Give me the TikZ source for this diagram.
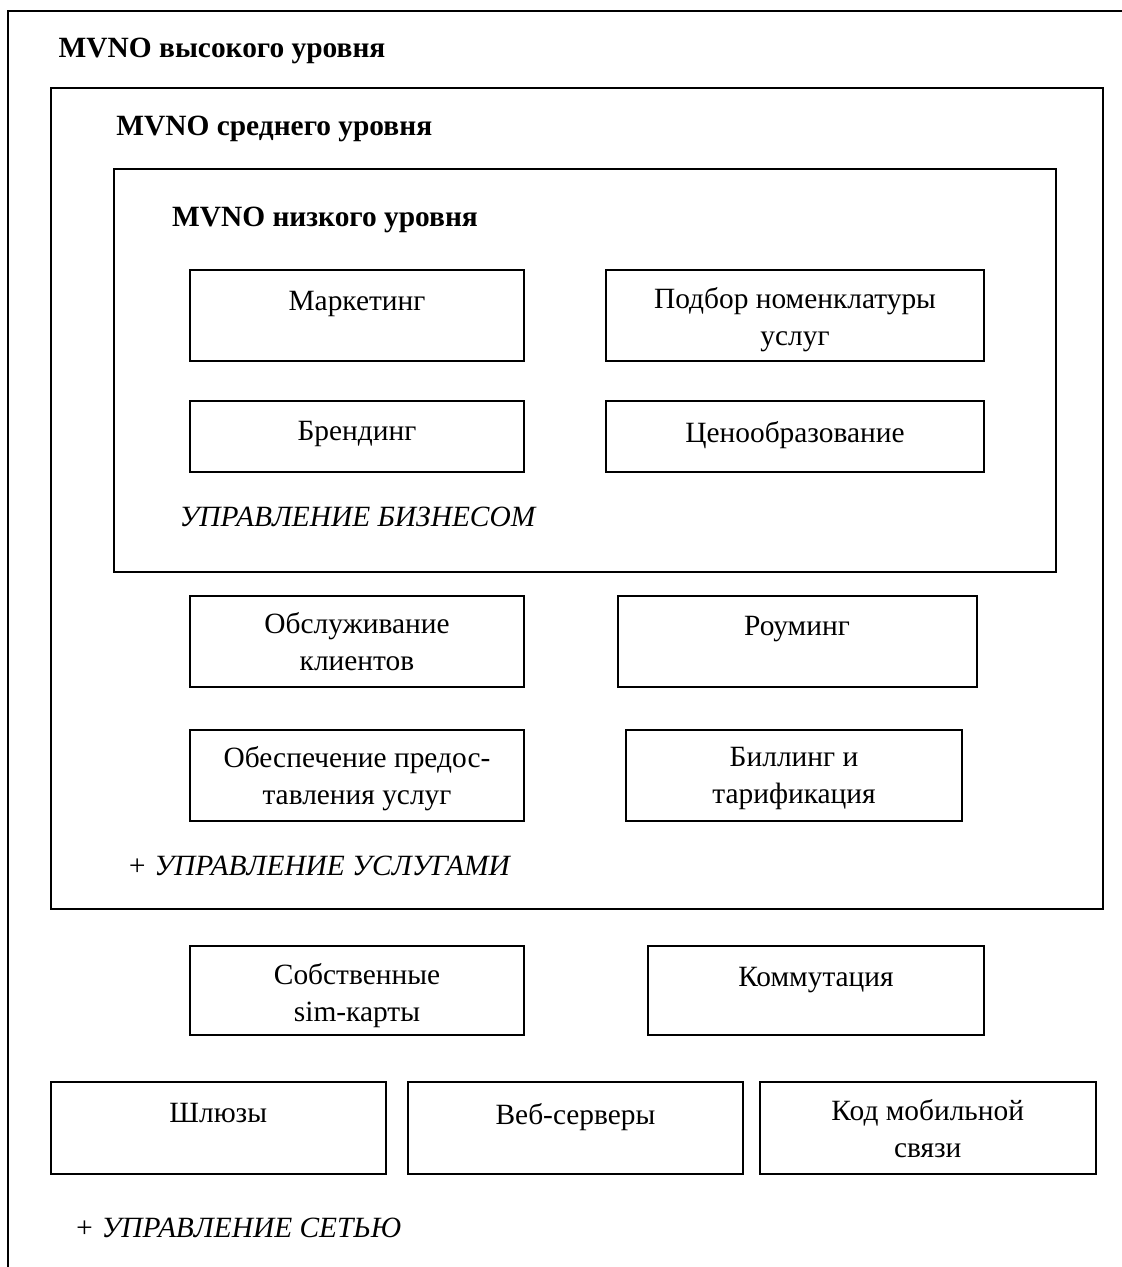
\documentclass[tikz,border=0pt]{standalone}
\usepackage{fontspec}
\setmainfont{Liberation Serif}
\usetikzlibrary{positioning}

\begin{document}
\begin{tikzpicture}[x=0.5pt, y=-0.5pt,
    font=\fontsize{14.7}{18.5}\selectfont,
    layer/.style={rectangle, draw, line width=1pt, inner sep=0pt},
    unit/.style={rectangle, draw, line width=1pt, inner sep=0pt, minimum height=45.5pt,
      label={[anchor=north, inner sep=0pt, align=center, yshift=-10.8pt]north:#1}},
    unittwo/.style={rectangle, draw, line width=1pt, inner sep=0pt, minimum height=45.5pt,
      label={[anchor=north, inner sep=0pt, align=center, yshift=-9pt]north:#1}},
    title/.style={anchor=base west, inner sep=0pt, font=\fontsize{14.7}{18.5}\selectfont\bfseries},
    part/.style={anchor=base west, inner sep=0pt, font=\fontsize{14.7}{18.5}\selectfont\itshape}]
    \useasboundingbox (0,0) rectangle (1122,1267);

    % Layers
    \draw[line width=1pt] (8,1280) |- (1135,11);
    \node (mid) [layer, minimum width=526.25pt, minimum height=410.5pt] at (576.75,498.5) {};
    \node (low) [layer, minimum width=471pt, minimum height=201.25pt] at (585,370.25) {};

    % Titles
    \node (hightitle) [title] at (58.3,57.3) {MVNO высокого уровня};
    \node (midtitle) [title] at (116,136) {MVNO среднего уровня};
    \node (lowtitle) [title] at (171.7,226.7) {MVNO низкого уровня};

    % Business
    \node (marketing) [unit=Маркетинг, minimum width=167pt] at (357,315.5) {};
    \node (services) [unittwo={Подбор номенклатуры\\услуг}, minimum width=189pt] at (795,315.5) {};
    \node (branding) [unit=Брендинг, minimum width=167pt, minimum height=35.5pt] at (357,436) {};
    \node (pricing) [unit=Ценообразование, minimum width=189pt, minimum height=35.5pt] at (795,436) {};
    \node (business) [part] at (179.3,526.7) {УПРАВЛЕНИЕ БИЗНЕСОМ};

    % Services
    \node (care) [unittwo={Обслуживание\\клиентов}, minimum width=167pt] at (357,641) {};
    \node (roaming) [unit=Роуминг, minimum width=179.5pt] at (797,641) {};
    \node (provision) [unittwo={Обеспечение предос-\\тавления услуг}, minimum width=167pt] at (357,775) {};
    \node (billing) [unittwo={Биллинг и\\тарификация}, minimum width=168pt] at (794,775) {};
    \node (servmgmt) [part] at (126.7,875) {+ УПРАВЛЕНИЕ УСЛУГАМИ};

    % Network
    \node (sim) [unittwo={Собственные\\sim-карты}, minimum width=167pt, minimum height=44.5pt] at (357,990.5) {};
    \node (switching) [unit=Коммутация, minimum width=168pt, minimum height=44.5pt] at (816,990.5) {};
    \node (gateways) [unit=Шлюзы, minimum width=167.75pt, minimum height=46pt] at (218.25,1128) {};
    \node (web) [unit=Веб-серверы, minimum width=167.5pt, minimum height=46pt] at (575.5,1128) {};
    \node (mcode) [unittwo={Код мобильной\\связи}, minimum width=167.75pt, minimum height=46pt] at (927.75,1128) {};
    \node (netmgmt) [part] at (74,1237.3) {+ УПРАВЛЕНИЕ СЕТЬЮ};
\end{tikzpicture}
\end{document}
